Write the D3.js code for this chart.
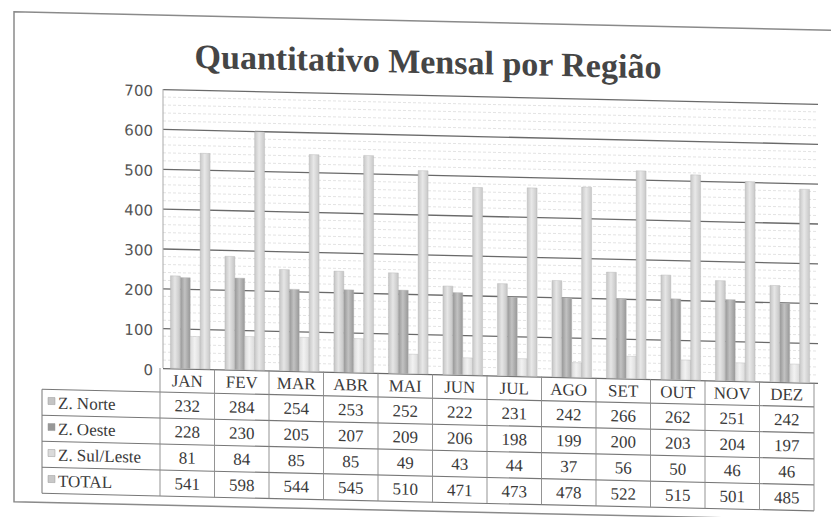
<!DOCTYPE html>
<html>
<head>
  <meta charset="utf-8">
  <title>Quantitativo Mensal por Região</title>
  <script src="https://d3js.org/d3.v7.min.js"></script>
  <style>
    html, body {
      margin: 0;
      padding: 0;
      background: #fff;
    }
    svg {
      display: block;
    }
    .title {
      font-family: "Liberation Serif", Tinos, "Times New Roman", "DejaVu Serif", serif;
      font-weight: bold;
      font-size: 34px;
      fill: #454545;
      text-anchor: middle;
    }
    .yaxis text {
      font-family: "DejaVu Sans", Verdana, sans-serif;
      font-size: 15px;
      fill: #555;
    }
    .cell {
      font-family: "Liberation Serif", Tinos, "Times New Roman", "DejaVu Serif", serif;
      font-size: 17px;
      fill: #3a3a3a;
    }
  </style>
</head>
<body>
<svg width="831" height="517"></svg>
<script>
  var months = ["JAN", "FEV", "MAR", "ABR", "MAI", "JUN", "JUL", "AGO", "SET", "OUT", "NOV", "DEZ"];
  var seriesNames = ["Z. Norte", "Z. Oeste", "Z. Sul/Leste", "TOTAL"];
  var norte = [232, 284, 254, 253, 252, 222, 231, 242, 266, 262, 251, 242];
  var oeste = [228, 230, 205, 207, 209, 206, 198, 199, 200, 203, 204, 197];
  var sulLeste = [81, 84, 85, 85, 49, 43, 44, 37, 56, 50, 46, 46];
  var total = [541, 598, 544, 545, 510, 471, 473, 478, 522, 515, 501, 485];
  var yTicks = [0, 100, 200, 300, 400, 500, 600, 700];

  var seriesValues = [norte, oeste, sulLeste, total];

  var svg = d3.select("svg");
  var defs = svg.append("defs");

  // the scan is a little tilted, so everything sits in a skewed group
  var page = svg.append("g")
    .attr("transform", "translate(160,0) skewY(1.3) translate(-160,0)");

  var plotLeft = 160, plotRight = 814, plotTop = 89, plotBottom = 368;
  var tableLeft = 42, rowH = 26;

  var colors = {
    "Z. Norte": ["#c4c4c4", "#e6e6e6"],
    "Z. Oeste": ["#979797", "#c2c2c2"],
    "Z. Sul/Leste": ["#dadada", "#f2f2f2"],
    "TOTAL": ["#c8c8c8", "#e8e8e8"]
  };

  seriesNames.forEach(function (s, i) {
    var grad = defs.append("linearGradient")
      .attr("id", "g" + i)
      .attr("x1", "0").attr("x2", "1").attr("y1", "0").attr("y2", "0");
    grad.append("stop").attr("offset", "0%").attr("stop-color", colors[s][0]);
    grad.append("stop").attr("offset", "45%").attr("stop-color", colors[s][1]);
    grad.append("stop").attr("offset", "100%").attr("stop-color", colors[s][0]);
  });

  // outer frame
  page.append("path")
    .attr("d", "M840,15 L14,15 L14,505 L840,505")
    .attr("fill", "none")
    .attr("stroke", "#8a8a8a")
    .attr("stroke-width", 1.5);

  page.append("text")
    .attr("class", "title")
    .attr("x", 428)
    .attr("y", 67)
    .text("Quantitativo Mensal por Região");

  var y = d3.scaleLinear().domain([0, 700]).range([plotBottom, plotTop]);
  var x0 = d3.scaleBand().domain(months).range([plotLeft, plotRight]);
  var x1 = d3.scaleBand().domain(seriesNames)
    .range([0, x0.bandwidth() * 4 / 5.5]);

  // faint minor lines
  page.append("g")
    .selectAll("line")
    .data(d3.range(20, 700, 20).filter(function (v) { return v % 100 !== 0; }))
    .enter()
    .append("line")
    .attr("x1", plotLeft + 3).attr("x2", plotRight + 4)
    .attr("y1", function (d) { return y(d); })
    .attr("y2", function (d) { return y(d); })
    .attr("stroke", "#dcdcdc")
    .attr("stroke-width", 0.8)
    .attr("stroke-dasharray", "3,2");

  // major gridlines
  page.append("g")
    .attr("transform", "translate(" + (plotLeft + 3) + ",0)")
    .call(d3.axisLeft(y).tickValues(yTicks).tickSize(-(plotRight - plotLeft + 1)).tickFormat(""))
    .call(function (g) { g.select(".domain").remove(); })
    .selectAll("line")
    .attr("stroke", "#444")
    .attr("stroke-width", 1.3)
    .attr("stroke-opacity", 0.8);

  // plot area left edge
  page.append("line")
    .attr("x1", plotLeft + 3).attr("x2", plotLeft + 3)
    .attr("y1", plotTop).attr("y2", plotBottom)
    .attr("stroke", "#aaa");

  // y labels
  var yAxis = page.append("g")
    .attr("class", "yaxis")
    .attr("transform", "translate(" + (plotLeft - 7) + ",2)")
    .call(d3.axisLeft(y).tickValues(yTicks).tickSize(0).tickPadding(0));
  yAxis.select(".domain").remove();

  // bars
  var groups = page.append("g")
    .selectAll("g")
    .data(months)
    .enter()
    .append("g")
    .attr("transform", function (m) {
      return "translate(" + (x0(m) + (x0.bandwidth() - x1.range()[1]) / 2 + 3) + ",0)";
    });

  groups.selectAll("rect")
    .data(function (m, mi) {
      return seriesNames.map(function (s, si) {
        return { series: s, si: si, value: seriesValues[si][mi] };
      });
    })
    .enter()
    .append("rect")
    .attr("x", function (d) { return x1(d.series); })
    .attr("width", x1.bandwidth())
    .attr("y", function (d) { return y(d.value); })
    .attr("height", function (d) { return plotBottom - y(d.value); })
    .attr("fill", function (d) { return "url(#g" + d.si + ")"; })
    .attr("stroke", "#b4b4b4")
    .attr("stroke-width", 0.4);

  // data table
  var table = page.append("g");

  table.selectAll("text.head")
    .data(months)
    .enter()
    .append("text")
    .attr("class", "cell head")
    .attr("x", function (m) { return x0(m) + x0.bandwidth() / 2; })
    .attr("y", plotBottom + 18)
    .attr("text-anchor", "middle")
    .text(function (m) { return m; });

  var rowTop = function (i) { return plotBottom + 24 + i * rowH; };

  // horizontal rules
  table.selectAll("line.h")
    .data(d3.range(0, 5))
    .enter()
    .append("line")
    .attr("x1", tableLeft)
    .attr("x2", plotRight)
    .attr("y1", function (i) { return rowTop(i); })
    .attr("y2", function (i) { return rowTop(i); })
    .attr("stroke", "#777")
    .attr("stroke-width", 1.1);

  // vertical rules
  table.selectAll("line.v")
    .data(months.concat(["end"]))
    .enter()
    .append("line")
    .attr("x1", function (m) { return m === "end" ? plotRight : x0(m); })
    .attr("x2", function (m) { return m === "end" ? plotRight : x0(m); })
    .attr("y1", plotBottom)
    .attr("y2", rowTop(4))
    .attr("stroke", "#888")
    .attr("stroke-width", 0.9);

  table.append("line")
    .attr("x1", tableLeft).attr("x2", tableLeft)
    .attr("y1", rowTop(0)).attr("y2", rowTop(4))
    .attr("stroke", "#777");

  seriesNames.forEach(function (s, si) {
    var top = rowTop(si);
    table.append("rect")
      .attr("x", tableLeft + 6)
      .attr("y", top + rowH / 2 - 5)
      .attr("width", 7)
      .attr("height", 7)
      .attr("fill", colors[s][0])
      .attr("stroke", "#999")
      .attr("stroke-width", 0.5);
    table.append("text")
      .attr("class", "cell")
      .attr("x", tableLeft + 16)
      .attr("y", top + rowH / 2 + 6)
      .text(s);
    table.selectAll(null)
      .data(seriesValues[si])
      .enter()
      .append("text")
      .attr("class", "cell")
      .attr("text-anchor", "middle")
      .attr("x", function (v, i) { return x0(months[i]) + x0.bandwidth() / 2; })
      .attr("y", top + rowH / 2 + 6)
      .text(function (v) { return v; });
  });
</script>
</body>
</html>
